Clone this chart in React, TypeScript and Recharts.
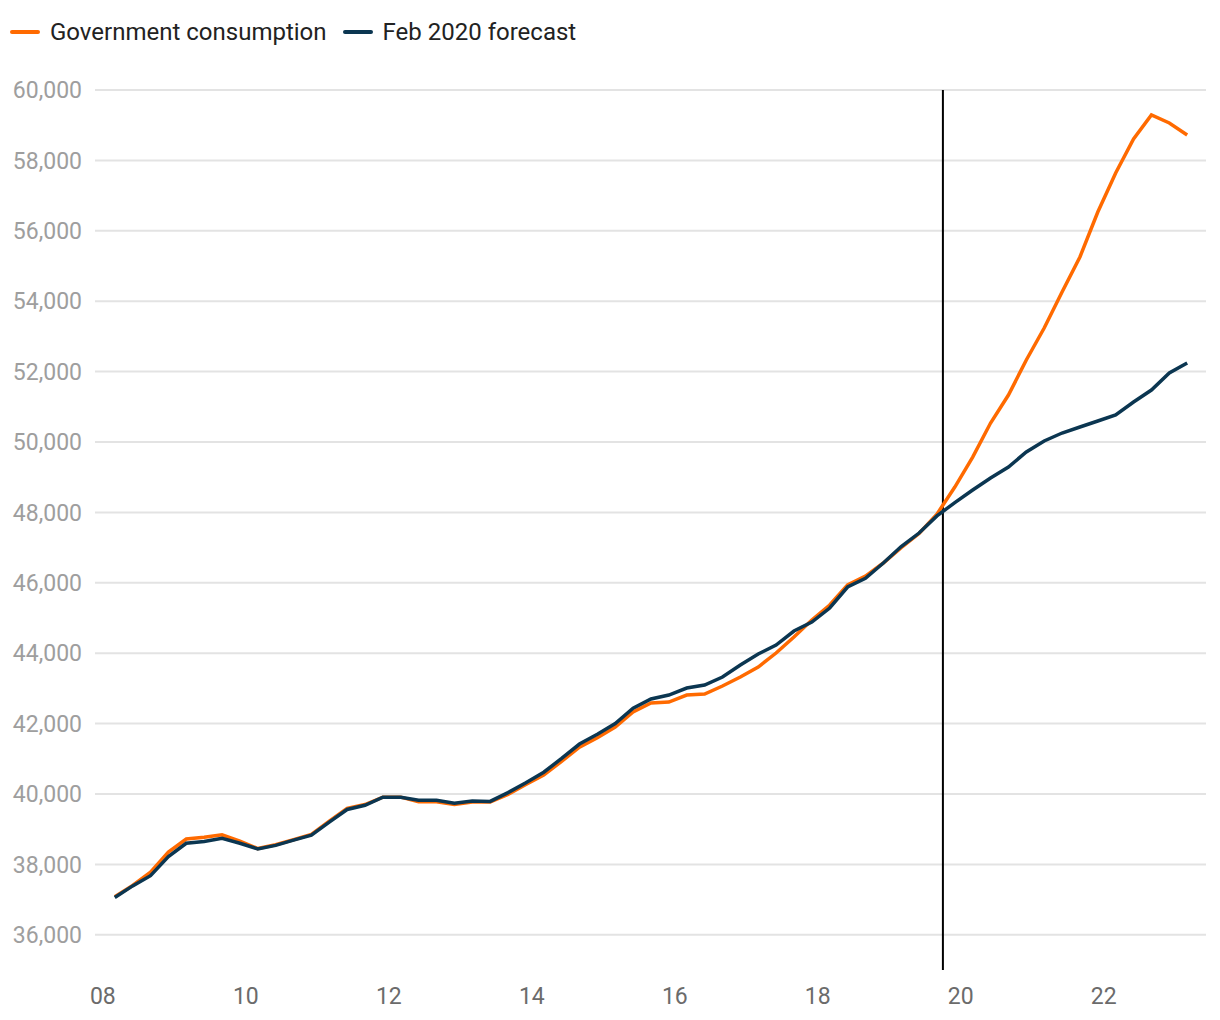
import React from "react";
import { LineChart, Line, XAxis, YAxis, ReferenceLine } from "recharts";

// ── Data ───────────────────────────────────────────────────────────────────

const quarters = [
  "2008Q1", "2008Q2", "2008Q3", "2008Q4",
  "2009Q1", "2009Q2", "2009Q3", "2009Q4",
  "2010Q1", "2010Q2", "2010Q3", "2010Q4",
  "2011Q1", "2011Q2", "2011Q3", "2011Q4",
  "2012Q1", "2012Q2", "2012Q3", "2012Q4",
  "2013Q1", "2013Q2", "2013Q3", "2013Q4",
  "2014Q1", "2014Q2", "2014Q3", "2014Q4",
  "2015Q1", "2015Q2", "2015Q3", "2015Q4",
  "2016Q1", "2016Q2", "2016Q3", "2016Q4",
  "2017Q1", "2017Q2", "2017Q3", "2017Q4",
  "2018Q1", "2018Q2", "2018Q3", "2018Q4",
  "2019Q1", "2019Q2", "2019Q3", "2019Q4",
  "2020Q1", "2020Q2", "2020Q3", "2020Q4",
  "2021Q1", "2021Q2", "2021Q3", "2021Q4",
  "2022Q1", "2022Q2", "2022Q3", "2022Q4",
  "2023Q1",
];

const governmentConsumption = [
  37080, 37400, 37780, 38350,
  38720, 38770, 38840, 38660,
  38450, 38560, 38700, 38850,
  39230, 39590, 39700, 39910,
  39910, 39780, 39780, 39700,
  39770, 39770, 39990, 40270,
  40540, 40930, 41330, 41600,
  41900, 42330, 42585, 42613,
  42812, 42841, 43068, 43323,
  43607, 44005, 44460, 44943,
  45369, 45937, 46190, 46562,
  47000, 47400, 47950, 48721,
  49573, 50539, 51335, 52330,
  53238, 54261, 55256, 56534,
  57642, 58608, 59290, 59062,
  58722,
];

const feb2020Forecast = [
  37060, 37390, 37680, 38220,
  38600, 38650, 38740, 38600,
  38440, 38540, 38690, 38830,
  39200, 39560, 39680, 39910,
  39910, 39820, 39820, 39740,
  39800, 39790, 40040, 40320,
  40620, 41010, 41420, 41700,
  42000, 42440, 42698, 42812,
  43011, 43096, 43323, 43664,
  43977, 44232, 44630, 44886,
  45284, 45880, 46130, 46562,
  47030, 47414, 47900, 48280,
  48636, 48977, 49290, 49716,
  50028, 50255, 50426, 50596,
  50767, 51136, 51477, 51960,
  52244,
];

const yTicks = [36000, 38000, 40000, 42000, 44000, 46000, 48000, 50000, 52000, 54000, 56000, 58000, 60000];
const xTicks = [2008, 2010, 2012, 2014, 2016, 2018, 2020, 2022];
const forecastLine = 2019.75;

const colors = {
  gov: "#ff6a00",
  forecast: "#0b3651",
  grid: "#e3e3e3",
  yTick: "#9e9e9e",
  xTick: "#6b6b6b",
  text: "#222222",
};

// "2008Q1" -> decimal year, points sit near the start of the quarter's last month
function quarterToYear(q: string) {
  const year = Number(q.slice(0, 4));
  const n = Number(q.slice(5));
  return year + (n - 1) / 4 + 2 / 12;
}

const data = quarters.map((q, i) => ({
  quarter: q,
  t: quarterToYear(q),
  gov: governmentConsumption[i],
  forecast: feb2020Forecast[i],
}));

// ── Legend ─────────────────────────────────────────────────────────────────

function LegendItem({ color, label }: { color: string; label: string }) {
  return (
    <div style={{ display: "flex", alignItems: "center", marginRight: 16 }}>
      <span style={{ width: 30, height: 4, borderRadius: 2, background: color, marginRight: 10 }} />
      <span>{label}</span>
    </div>
  );
}

// ── Chart ──────────────────────────────────────────────────────────────────

export default function App() {
  return (
    <div style={{ position: "relative", width: 1212, height: 1012, fontFamily: "Roboto, sans-serif" }}>
      <div
        style={{
          position: "absolute",
          top: 10,
          left: 2,
          display: "flex",
          fontSize: 24,
          lineHeight: "28px",
          color: colors.text,
        }}
      >
        <LegendItem color={colors.gov} label="Government consumption" />
        <LegendItem color={colors.forecast} label="Feb 2020 forecast" />
      </div>
      <LineChart width={1212} height={1012} data={data} margin={{ top: 82, right: 14, bottom: 10, left: 0 }}>
        <XAxis
          type="number"
          dataKey="t"
          domain={[2007.89, 2023.43]}
          ticks={xTicks}
          tickFormatter={(v: number) => String(v).slice(2)}
          axisLine={false}
          tickLine={false}
          tickMargin={12}
          height={40}
          tick={{ fill: colors.xTick, fontSize: 23 }}
        />
        <YAxis
          type="number"
          domain={[35000, 60000]}
          ticks={yTicks}
          tickFormatter={(v: number) => v.toLocaleString("en-US")}
          axisLine={false}
          tickLine={false}
          tickMargin={7}
          width={87}
          tick={{ fill: colors.yTick, fontSize: 23 }}
        />
        {/* horizontal gridlines only at the labelled ticks */}
        {yTicks.map((v) => (
          <ReferenceLine key={v} y={v} stroke={colors.grid} strokeWidth={2} />
        ))}
        <ReferenceLine x={forecastLine} stroke="#000" strokeWidth={2} />
        <Line
          type="linear"
          dataKey="gov"
          stroke={colors.gov}
          strokeWidth={3.5}
          dot={false}
          isAnimationActive={false}
        />
        <Line
          type="linear"
          dataKey="forecast"
          stroke={colors.forecast}
          strokeWidth={3.5}
          dot={false}
          isAnimationActive={false}
        />
      </LineChart>
    </div>
  );
}
